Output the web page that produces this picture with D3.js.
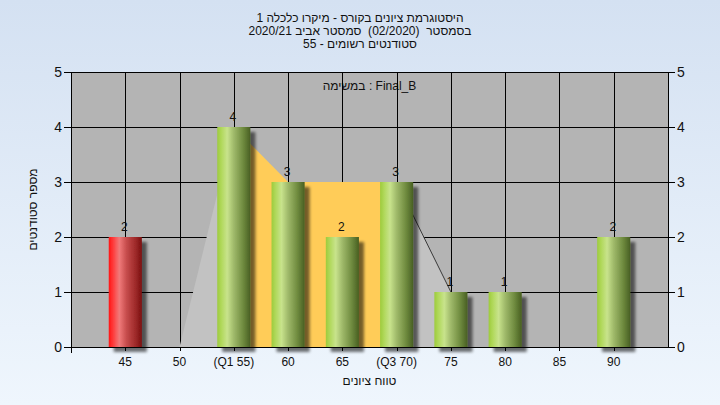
<!DOCTYPE html>
<html><head><meta charset="utf-8">
<script src="https://cdn.jsdelivr.net/npm/d3@7"></script>
<style>
html,body{margin:0;padding:0;}
svg{display:block;font-family:"Liberation Sans",Arial,"DejaVu Sans",sans-serif;}
text{white-space:pre;}
</style></head>
<body>
<svg id="c" width="720" height="405"></svg>
<script>
// ---- data ----
const grades = [45, 50, 55, 60, 65, 70, 75, 80, 85, 90];
const tickLabels = ["45", "50", "(Q1 55)", "60", "65", "(Q3 70)", "75", "80", "85", "90"];
const counts = [2, 0, 4, 3, 2, 3, 1, 1, 0, 2];
const areaGrades = [50, 55, 60, 65, 70, 75];
const areaValues = [0, 4, 3, 3, 3, 1];
const q1 = 55, q3 = 70;
const failBelow = 50;
const yTicks = [0, 1, 2, 3, 4, 5];
const titleLines = ["היסטוגרמת ציונים בקורס - מיקרו כלכלה 1", "בסמסטר  (02/2020)  סמסטר אביב 2020/21", "סטודנטים רשומים - 55"];
const legendText = "במשימה : Final_B";
const xTitle = "טווח ציונים";
const yTitle = "מספר סטודנטים";

const svg = d3.select("#c");
const W = 720, H = 405;
const L = 71, R = 668, T = 72, B = 347;

const defs = svg.append("defs");
const bg = defs.append("linearGradient").attr("id", "bg").attr("x1", 0).attr("y1", 0).attr("x2", 0).attr("y2", 1);
bg.append("stop").attr("offset", "0%").attr("stop-color", "#d4e1f2");
bg.append("stop").attr("offset", "100%").attr("stop-color", "#eff6fd");

const gG = defs.append("linearGradient").attr("id", "gGreen");
[["0%", "#9dcb3c"], ["12%", "#b0d85a"], ["30%", "#c8e38c"], ["50%", "#9fb96a"], ["78%", "#6f8b3f"], ["100%", "#485f22"]]
  .forEach(([o, c]) => gG.append("stop").attr("offset", o).attr("stop-color", c));
const gR = defs.append("linearGradient").attr("id", "gRed");
[["0%", "#ff1414"], ["12%", "#ff3838"], ["32%", "#f07a7a"], ["55%", "#c44a4a"], ["80%", "#a02a2a"], ["100%", "#7a1010"]]
  .forEach(([o, c]) => gR.append("stop").attr("offset", o).attr("stop-color", c));

const f = defs.append("filter").attr("id", "sh").attr("x", "-20%").attr("y", "-10%").attr("width", "160%").attr("height", "130%");
f.append("feGaussianBlur").attr("in", "SourceAlpha").attr("stdDeviation", 1.8).attr("result", "b");
f.append("feOffset").attr("in", "b").attr("dx", 5).attr("dy", 5).attr("result", "o");
f.append("feComponentTransfer").attr("in", "o").attr("result", "o2")
  .append("feFuncA").attr("type", "linear").attr("slope", 0.55);
const m = f.append("feMerge");
m.append("feMergeNode").attr("in", "o2");
m.append("feMergeNode").attr("in", "SourceGraphic");

svg.append("rect").attr("width", W).attr("height", H).attr("fill", "url(#bg)");

// scales
const x = d3.scalePoint().domain(grades).range([L, R]).padding(1);
const y = d3.scaleLinear().domain([0, 5]).range([B, T]);
const bw = x.step() * 0.61;

// plot background
svg.append("rect").attr("x", L).attr("y", T).attr("width", R - L).attr("height", B - T).attr("fill", "#b4b4b4");

// titles
svg.append("g").selectAll("text").data(titleLines).join("text")
  .attr("x", 360).attr("y", (d, i) => 22 + i * 13).attr("text-anchor", "middle")
  .attr("font-size", 12).attr("fill", "#111").text(d => d);

// legend (under grid)
svg.append("text").attr("x", (L + R) / 2).attr("y", 90).attr("text-anchor", "middle")
  .attr("font-size", 12).attr("fill", "#111").text(legendText);

// grid
const grid = svg.append("g").attr("stroke", "#000").attr("stroke-width", 1).attr("shape-rendering", "crispEdges");
grid.selectAll(".h").data(yTicks).join("line").attr("class", "h")
  .attr("x1", L - 7).attr("x2", R + 7).attr("y1", d => Math.round(y(d)) + 0.5).attr("y2", d => Math.round(y(d)) + 0.5);
grid.selectAll(".v").data(grades).join("line").attr("class", "v")
  .attr("x1", d => Math.round(x(d)) + 0.5).attr("x2", d => Math.round(x(d)) + 0.5).attr("y1", T).attr("y2", B + 4);
grid.append("line").attr("x1", L + 0.5).attr("x2", L + 0.5).attr("y1", T).attr("y2", B + 6);
grid.append("line").attr("x1", R + 0.5).attr("x2", R + 0.5).attr("y1", T).attr("y2", B);

// area series
const pts = areaGrades.map((g, i) => [x(g), y(areaValues[i])]);
const area = d3.area().x(d => d[0]).y0(B).y1(d => d[1]);
const iq1 = areaGrades.indexOf(q1), iq3 = areaGrades.indexOf(q3);
svg.append("path").attr("d", area(pts.slice(0, iq1 + 1))).attr("fill", "#c2c2c2");
svg.append("path").attr("d", area(pts.slice(iq3))).attr("fill", "#c2c2c2");
svg.append("path").attr("d", area(pts.slice(iq1, iq3 + 1))).attr("fill", "#ffcc58");
svg.append("path").attr("d", d3.line()(pts.slice(iq3))).attr("fill", "none").attr("stroke", "#3a3a3a").attr("stroke-width", 1);

// value labels
svg.append("g").selectAll("text").data(grades.filter((g, i) => counts[i] > 0)).join("text")
  .attr("x", g => x(g) - 1).attr("y", g => y(counts[grades.indexOf(g)]) - 6)
  .attr("text-anchor", "middle").attr("font-size", 12).attr("fill", "#111")
  .text(g => counts[grades.indexOf(g)]);

// bars
svg.append("g").selectAll("rect").data(grades.filter((g, i) => counts[i] > 0)).join("rect")
  .attr("x", g => x(g) - bw / 2).attr("width", bw)
  .attr("y", g => y(counts[grades.indexOf(g)])).attr("height", g => B - y(counts[grades.indexOf(g)]))
  .attr("fill", g => g < failBelow ? "url(#gRed)" : "url(#gGreen)")
  .attr("filter", "url(#sh)");

// bottom axis line on top
svg.append("line").attr("x1", L).attr("x2", R).attr("y1", B + 0.5).attr("y2", B + 0.5)
  .attr("stroke", "#000").attr("shape-rendering", "crispEdges");

// y tick labels
svg.append("g").selectAll("text").data(yTicks).join("text")
  .attr("x", L - 9).attr("y", d => y(d) + 5).attr("text-anchor", "end")
  .attr("font-size", 14).attr("fill", "#111").text(d => d);
svg.append("g").selectAll("text").data(yTicks).join("text")
  .attr("x", R + 9).attr("y", d => y(d) + 5).attr("text-anchor", "start")
  .attr("font-size", 14).attr("fill", "#111").text(d => d);

// x tick labels
svg.append("g").selectAll("text").data(grades).join("text")
  .attr("x", d => x(d)).attr("y", 366).attr("text-anchor", "middle")
  .attr("font-size", 12).attr("fill", "#111").text((d, i) => tickLabels[i]);

// axis titles
svg.append("text").attr("x", (L + R) / 2).attr("y", 385).attr("text-anchor", "middle")
  .attr("font-size", 12).attr("fill", "#111").text(xTitle);
svg.append("text").attr("transform", `translate(37,${(T + B) / 2}) rotate(-90)`).attr("text-anchor", "middle")
  .attr("font-size", 12).attr("fill", "#111").text(yTitle);
</script>
</body></html>
